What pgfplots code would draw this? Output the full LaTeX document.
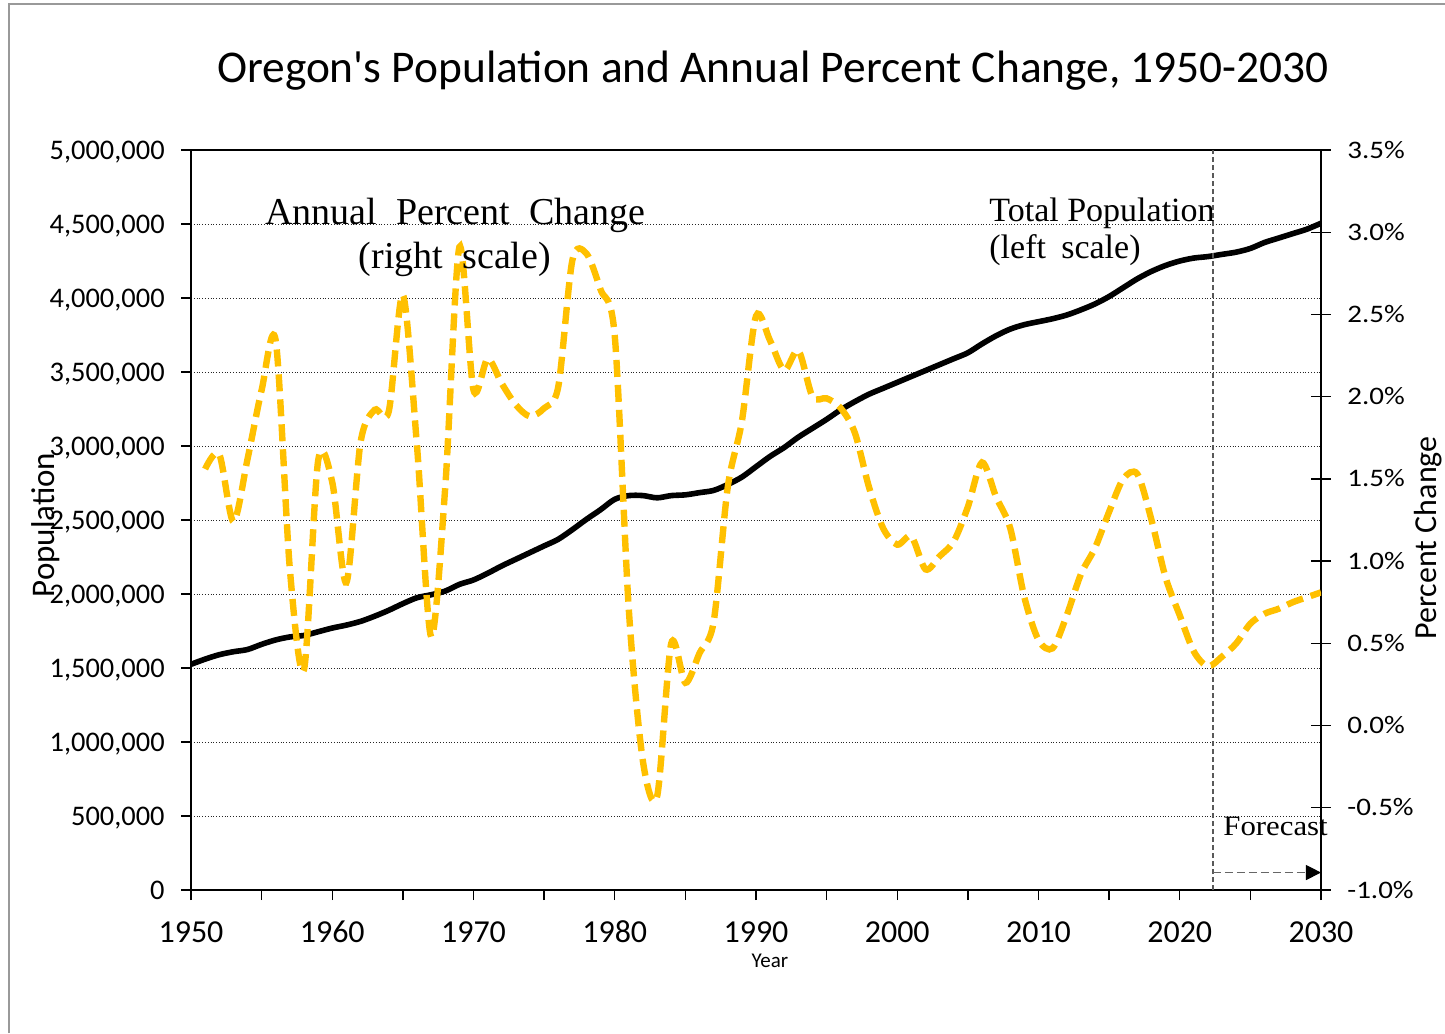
\documentclass[border=0pt]{standalone}
\usepackage{pgfplots}
\pgfplotsset{compat=1.18}
\usepackage{pgfplotstable}
\usepackage{fontspec}
\usetikzlibrary{arrows.meta}
\setmainfont{Carlito}
\newfontfamily\calfont{Carlito}
\newfontfamily\calwide{Carlito}[FakeStretch=1.15]
\newfontfamily\tnr{Liberation Serif}
\newfontfamily\tnrwide{Liberation Serif}[FakeStretch=1.1]
\definecolor{gold}{RGB}{255,192,0}

% total population (left scale)
\pgfplotstableread{
year pop
1950 1525000
1951 1560000
1952 1590000
1953 1610000
1954 1625000
1955 1660000
1956 1690000
1957 1710000
1958 1720000
1959 1745000
1960 1770000
1961 1790000
1962 1815000
1963 1850000
1964 1890000
1965 1935000
1966 1975000
1967 1995000
1968 2020000
1969 2065000
1970 2095000
1971 2140000
1972 2190000
1973 2235000
1974 2280000
1975 2325000
1976 2370000
1977 2435000
1978 2505000
1979 2570000
1980 2640000
1981 2665000
1982 2665000
1983 2650000
1984 2665000
1985 2670000
1986 2685000
1987 2700000
1988 2740000
1989 2790000
1990 2860000
1991 2930000
1992 2990000
1993 3060000
1994 3120000
1995 3180000
1996 3245000
1997 3300000
1998 3350000
1999 3390000
2000 3430000
2001 3470000
2002 3510000
2003 3550000
2004 3590000
2005 3630000
2006 3690000
2007 3745000
2008 3790000
2009 3820000
2010 3840000
2011 3860000
2012 3885000
2013 3920000
2014 3960000
2015 4010000
2016 4070000
2017 4130000
2018 4180000
2019 4220000
2020 4250000
2021 4270000
2022 4280000
2023 4295000
2024 4310000
2025 4335000
2026 4375000
2027 4405000
2028 4435000
2029 4465000
2030 4505000
}\poptable

% annual percent change (right scale)
\pgfplotstableread{
year pct
1951 1.56
1952 1.65
1953 1.24
1954 1.62
1955 2.04
1956 2.34
1957 0.95
1958 0.34
1959 1.61
1960 1.48
1961 0.87
1962 1.72
1963 1.92
1964 1.91
1965 2.62
1966 1.70
1967 0.54
1968 1.45
1969 2.91
1970 2.04
1971 2.23
1972 2.08
1973 1.95
1974 1.88
1975 1.93
1976 2.06
1977 2.83
1978 2.87
1979 2.65
1980 2.37
1981 0.70
1982 -0.22
1983 -0.43
1984 0.50
1985 0.26
1986 0.44
1987 0.63
1988 1.45
1989 1.85
1990 2.49
1991 2.34
1992 2.16
1993 2.28
1994 2.00
1995 1.99
1996 1.93
1997 1.78
1998 1.45
1999 1.20
2000 1.10
2001 1.15
2002 0.95
2003 1.03
2004 1.12
2005 1.33
2006 1.60
2007 1.39
2008 1.20
2009 0.78
2010 0.52
2011 0.47
2012 0.67
2013 0.92
2014 1.08
2015 1.30
2016 1.50
2017 1.53
2018 1.25
2019 0.90
2020 0.67
2021 0.45
2022 0.36
2023 0.42
2024 0.50
2025 0.62
2026 0.68
2027 0.71
2028 0.75
2029 0.78
2030 0.81
}\pcttable

\begin{document}
\begin{tikzpicture}
\useasboundingbox (0,0) rectangle (722.5pt,-516.5pt);
\fill[white] (0,0) rectangle (722.5pt,-516.5pt);

% left axis: population
\begin{axis}[
  at={(95.5pt,-445pt)}, anchor=south west,
  width=565pt, height=370pt, scale only axis,
  xmin=1950, xmax=2030, ymin=0, ymax=5000000,
  xtick={1950,1960,...,2030},
  minor xtick={1955,1965,...,2025},
  ytick={0,500000,...,5000000},
  xtick pos=left, ytick pos=left,
  tick align=outside,
  major tick length=5pt, minor tick length=5pt,
  tick style={black, line width=0.7pt},
  axis line style={line width=1.3pt},
  ymajorgrids,
  grid style={black!85, densely dotted, line width=0.5pt},
  scaled y ticks=false,
  /pgf/number format/assume math mode=true,
  yticklabel style={/pgf/number format/fixed, /pgf/number format/precision=0,
    /pgf/number format/1000 sep={,},
    font=\calfont\fontsize{14.2}{14.2}\selectfont,
    anchor=base east, inner sep=0pt, xshift=-8pt, yshift=-4.5pt},
  xticklabel style={/pgf/number format/1000 sep={},
    font=\calfont\fontsize{16}{16}\selectfont,
    anchor=base, inner sep=0pt, yshift=-21pt},
]
  \addplot[black, line width=2.8pt, smooth] table[x=year, y=pop] {\poptable};
  \draw[black!65, line width=0.6pt, dash pattern=on 2.5pt off 1.5pt]
    (axis cs:2022.35,0) -- (axis cs:2022.35,5000000);
  \draw[black!60, line width=0.6pt, dash pattern=on 4pt off 2pt,
    -{Triangle[black, length=7.5pt, width=7.5pt]}]
    (axis cs:2022.35,118000) -- (axis cs:2030,118000);
\end{axis}

% right axis: annual percent change
\begin{axis}[
  at={(95.5pt,-445pt)}, anchor=south west,
  width=565pt, height=370pt, scale only axis,
  xmin=1950, xmax=2030, ymin=-1, ymax=3.5,
  axis x line=none, axis y line*=right,
  ytick={-1,-0.5,0,0.5,1,1.5,2,2.5,3,3.5},
  tick align=center, major tick length=10pt,
  tick style={black, line width=0.7pt},
  axis line style={line width=1.3pt},
  /pgf/number format/assume math mode=true,
  yticklabel={\pgfmathprintnumber[fixed,fixed zerofill,precision=1]{\tick}\%},
  yticklabel style={font=\calwide\fontsize{12.6}{12.6}\selectfont,
    anchor=base west, inner sep=0pt, xshift=8pt, yshift=-4pt},
]
  \addplot[gold, line width=3.2pt, dash pattern=on 8.5pt off 4pt, smooth]
    table[x=year, y=pct] {\pcttable};
\end{axis}

\begin{scope}[x=0.5pt, y=-0.5pt]
  \draw[black!40, line width=0.8pt] (9,1033) -- (9,4) -- (1445,4);
  \node[anchor=base, inner sep=0pt, font=\calfont\fontsize{22.7}{22.7}\selectfont]
    at (773,82) {Oregon's Population and Annual Percent Change, 1950-2030};
  \node[rotate=90, inner sep=0pt, font=\calfont\fontsize{16.5}{16.5}\selectfont]
    at (46,525) {Population};
  \node[rotate=90, anchor=base, inner sep=0pt, font=\calfont\fontsize{16}{16}\selectfont]
    at (1436,538) {Percent Change};
  \node[anchor=base, inner sep=0pt, font=\calfont\fontsize{10.5}{10.5}\selectfont]
    at (770,967) {Year};
  \node[anchor=base west, inner sep=0pt, font=\tnr\fontsize{19}{19}\selectfont]
    at (265,224) {Annual\ \ Percent\ \ Change};
  \node[anchor=base, inner sep=0pt, font=\tnr\fontsize{19}{19}\selectfont]
    at (455,268) {(right\ \ scale)};
  \node[anchor=base west, inner sep=0pt, font=\tnr\fontsize{17}{17}\selectfont]
    at (989,221) {Total Population};
  \node[anchor=base west, inner sep=0pt, font=\tnr\fontsize{17}{17}\selectfont]
    at (989,258) {(left\hspace{0.45em}scale)};
  \node[anchor=base west, inner sep=0pt, font=\tnrwide\fontsize{14}{14}\selectfont]
    at (1223,835) {Forecast};
\end{scope}
\end{tikzpicture}
\end{document}
